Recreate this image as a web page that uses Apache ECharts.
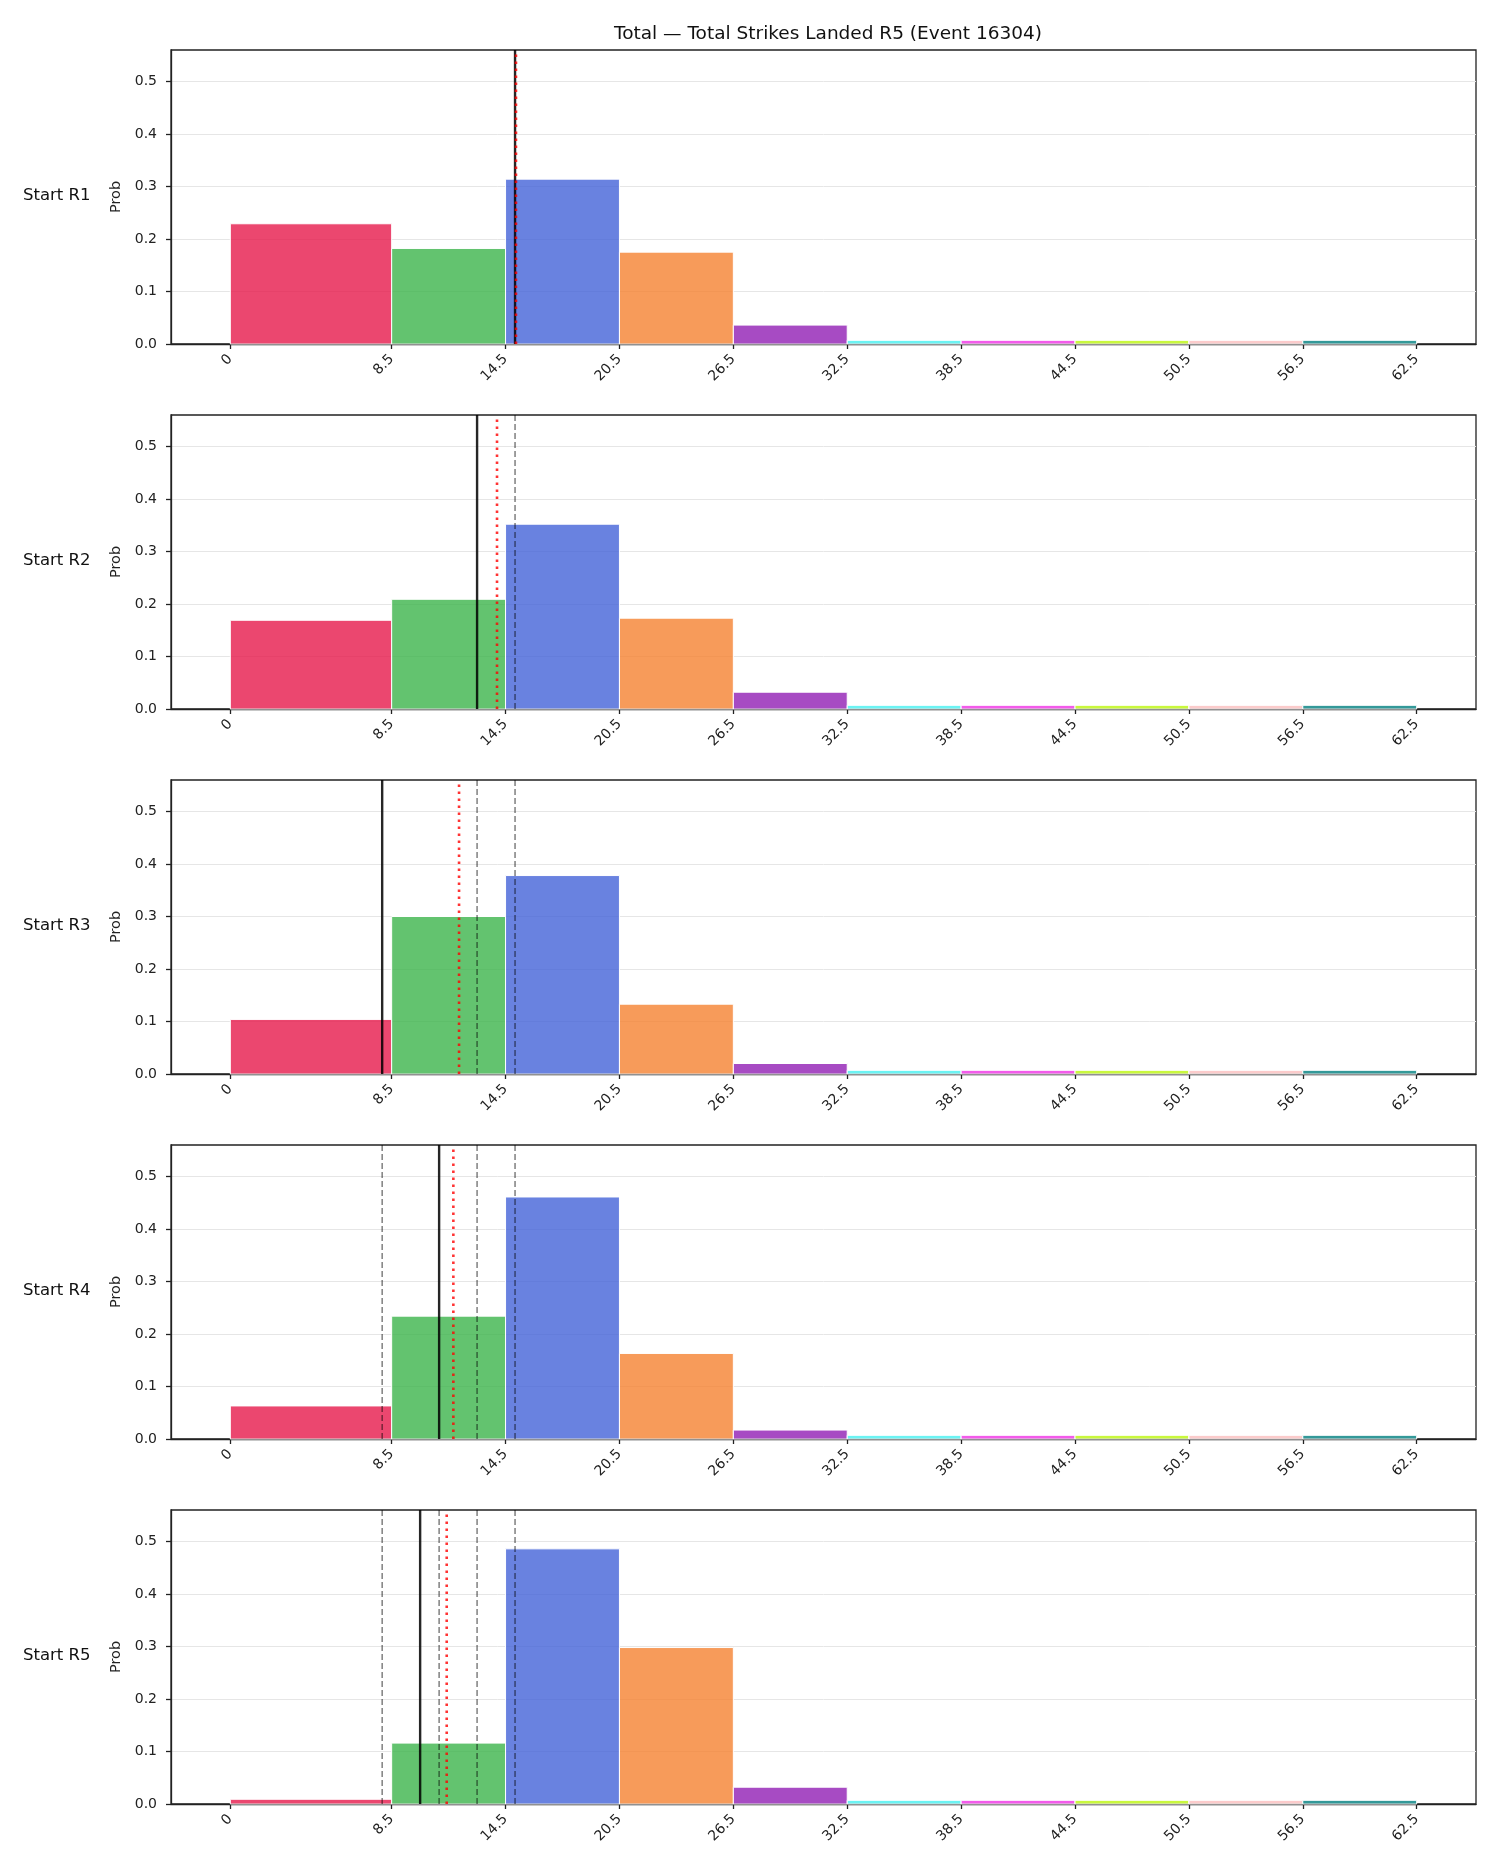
<!DOCTYPE html>
<html>
<head>
<meta charset="utf-8">
<script src="https://cdn.jsdelivr.net/npm/echarts@6/dist/echarts.min.js"></script>
<style>
  html, body { margin: 0; padding: 0; background: #fff; }
  #main { width: 1500px; height: 1875px; }
</style>
</head>
<body>
<div id="main"></div>
<script>
// bin edges and tick labels on the x axis
var binEdges = [0, 8.5, 14.5, 20.5, 26.5, 32.5, 38.5, 44.5, 50.5, 56.5, 62.5];
var tickLabels = ['0', '8.5', '14.5', '20.5', '26.5', '32.5', '38.5', '44.5', '50.5', '56.5', '62.5'];
var yTicks = [0, 0.1, 0.2, 0.3, 0.4, 0.5];
var rowLabels = ['Start R1', 'Start R2', 'Start R3', 'Start R4', 'Start R5'];

// probability per bin, one array per starting round
var probR1 = [0.229, 0.182, 0.314, 0.175, 0.036, 0.007, 0.007, 0.007, 0.007, 0.007];
var probR2 = [0.169, 0.209, 0.352, 0.173, 0.032, 0.007, 0.007, 0.007, 0.007, 0.007];
var probR3 = [0.104, 0.300, 0.378, 0.133, 0.020, 0.007, 0.007, 0.007, 0.007, 0.007];
var probR4 = [0.063, 0.234, 0.461, 0.163, 0.017, 0.007, 0.007, 0.007, 0.007, 0.007];
var probR5 = [0.009, 0.116, 0.486, 0.298, 0.032, 0.007, 0.007, 0.007, 0.007, 0.007];

// solid black line per round, red dotted line per round
var solidLine = [15.0, 13.0, 8.0, 11.0, 10.0];
var dottedLine = [15.05, 14.05, 12.05, 11.75, 11.4];

var binColors = ['#e6194b', '#3cb44b', '#4363d8', '#f58231', '#911eb4',
                 '#46f0f0', '#f032e6', '#bcf60c', '#fabebe', '#008080'];

var allProbs = [probR1, probR2, probR3, probR4, probR5];

var dom = document.getElementById('main');
var myChart = echarts.init(dom);

var FONT = 'DejaVu Sans';
var gridTop0 = 50, gridStep = 365, gridH = 294;
var yMax = 0.56;

function hexA(hex, a) {
    var r = parseInt(hex.substr(1, 2), 16), g = parseInt(hex.substr(3, 2), 16), b = parseInt(hex.substr(5, 2), 16);
    return 'rgba(' + r + ',' + g + ',' + b + ',' + a + ')';
}

function renderBin(params, api) {
    var p0 = api.coord([api.value(0), api.value(2)]);
    var p1 = api.coord([api.value(1), 0]);
    return {
        type: 'rect',
        shape: {x: p0[0], y: p0[1], width: p1[0] - p0[0], height: p1[1] - p0[1]},
        style: {fill: hexA(binColors[api.value(3)], 0.8), stroke: '#ffffff', lineWidth: 1}
    };
}

// kind 0 = earlier round (grey dashed), 1 = this round (black), 2 = mean (red dotted)
function refStyle(kind) {
    if (kind === 0) return {stroke: 'rgba(0,0,0,0.5)', lineWidth: 1.5, lineDash: [6, 3]};
    if (kind === 1) return {stroke: 'rgba(0,0,0,0.85)', lineWidth: 2.4};
    return {stroke: 'rgba(255,0,0,0.8)', lineWidth: 2.6, lineDash: [2.5, 4.5]};
}

function renderRef(params, api) {
    var a = api.coord([api.value(0), 0]);
    var b = api.coord([api.value(0), yMax]);
    return {
        type: 'line',
        shape: {x1: a[0], y1: a[1], x2: b[0], y2: b[1]},
        style: refStyle(api.value(1)),
        z2: 10 + api.value(1)
    };
}

var grids = [], xAxes = [], yAxes = [], series = [], graphics = [];

for (var i = 0; i < 5; i++) {
    var gTop = gridTop0 + i * gridStep;
    grids.push({left: 171, right: 24, top: gTop, height: gridH,
                show: true, borderColor: '#222', borderWidth: 1.3});
    xAxes.push({
        gridIndex: i, type: 'value', min: -3.125, max: 65.625,
        axisLine: {show: true, onZero: false, lineStyle: {color: '#222', width: 1.3}},
        axisTick: {show: true, customValues: binEdges, length: 5, lineStyle: {color: '#222', width: 1.3}},
        axisLabel: {
            customValues: binEdges, rotate: 45, margin: 13,
            fontFamily: FONT, fontSize: 14, color: '#222',
            formatter: function (v) {
                var k = binEdges.indexOf(v);
                return k >= 0 ? tickLabels[k] : '';
            }
        },
        splitLine: {show: false}
    });
    yAxes.push({
        gridIndex: i, type: 'value', min: 0, max: yMax, interval: 0.1,
        name: 'Prob', nameLocation: 'middle', nameRotate: 90, nameGap: 46,
        nameTextStyle: {fontFamily: FONT, fontSize: 14.5, color: '#222'},
        axisLine: {show: true, onZero: false, lineStyle: {color: '#222', width: 1.3}},
        axisTick: {show: true, customValues: yTicks, length: 5, lineStyle: {color: '#222', width: 1.3}},
        axisLabel: {
            customValues: yTicks, margin: 14, fontFamily: FONT, fontSize: 14, color: '#222',
            formatter: function (v) { return v.toFixed(1); }
        },
        splitLine: {show: true, lineStyle: {color: '#e6e6e6', width: 1}}
    });

    var probs = allProbs[i];
    var data = [];
    for (var b = 0; b < probs.length; b++) {
        data.push([binEdges[b], binEdges[b + 1], probs[b], b]);
    }

    var refs = [];
    for (var j = 0; j < i; j++) refs.push([solidLine[j], 0]);
    refs.push([solidLine[i], 1]);
    refs.push([dottedLine[i], 2]);

    series.push({
        type: 'custom', xAxisIndex: i, yAxisIndex: i,
        renderItem: renderBin,
        encode: {x: [0, 1], y: 2},
        data: data,
        z: 2
    });
    series.push({
        type: 'custom', xAxisIndex: i, yAxisIndex: i,
        renderItem: renderRef,
        encode: {x: 0},
        data: refs,
        z: 5, silent: true
    });

    graphics.push({
        type: 'text', left: 23, top: gTop + gridH / 2 - 10,
        style: {text: rowLabels[i], font: '16.5px "DejaVu Sans"', fill: '#111'}
    });
}

var option = {
    backgroundColor: '#ffffff',
    animation: false,
    title: {
        text: 'Total \u2014 Total Strikes Landed R5 (Event 16304)',
        left: 823, top: 20, textAlign: 'center',
        textStyle: {fontFamily: FONT, fontSize: 18.5, fontWeight: 'normal', color: '#111'}
    },
    grid: grids,
    xAxis: xAxes,
    yAxis: yAxes,
    series: series,
    graphic: graphics
};

if (option && typeof option === 'object') {
    myChart.setOption(option);
}
</script>
</body>
</html>
